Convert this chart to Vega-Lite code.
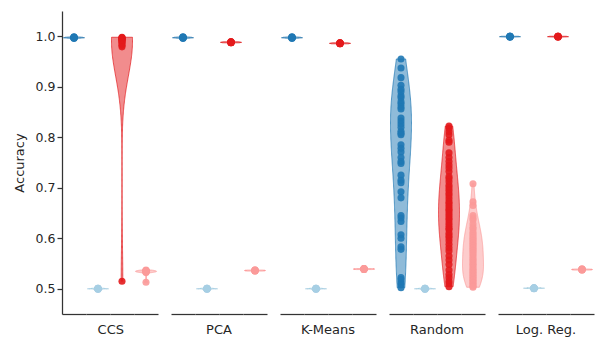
{
  "$schema": "https://vega.github.io/schema/vega-lite/v6.json",
  "padding": {"left": 13, "top": 11, "right": 5, "bottom": 5},
  "data": {"values": [
    {"m":"CCS","h":"A","v":0.998},{"m":"CCS","h":"A","v":0.997},{"m":"CCS","h":"A","v":0.996},{"m":"CCS","h":"A","v":0.998},{"m":"CCS","h":"A","v":0.997},{"m":"CCS","h":"A","v":0.996},{"m":"CCS","h":"A","v":0.999},{"m":"CCS","h":"A","v":0.997},{"m":"CCS","h":"A","v":0.998},{"m":"CCS","h":"A","v":0.997},
    {"m":"CCS","h":"B","v":0.500},{"m":"CCS","h":"B","v":0.501},{"m":"CCS","h":"B","v":0.499},{"m":"CCS","h":"B","v":0.500},{"m":"CCS","h":"B","v":0.501},{"m":"CCS","h":"B","v":0.500},{"m":"CCS","h":"B","v":0.499},{"m":"CCS","h":"B","v":0.500},{"m":"CCS","h":"B","v":0.501},{"m":"CCS","h":"B","v":0.500},
    {"m":"CCS","h":"C","v":0.998},{"m":"CCS","h":"C","v":0.997},{"m":"CCS","h":"C","v":0.996},{"m":"CCS","h":"C","v":0.996},{"m":"CCS","h":"C","v":0.995},{"m":"CCS","h":"C","v":0.994},{"m":"CCS","h":"C","v":0.993},{"m":"CCS","h":"C","v":0.992},{"m":"CCS","h":"C","v":0.990},{"m":"CCS","h":"C","v":0.988},{"m":"CCS","h":"C","v":0.985},{"m":"CCS","h":"C","v":0.982},{"m":"CCS","h":"C","v":0.979},{"m":"CCS","h":"C","v":0.515},
    {"m":"CCS","h":"D","v":0.537},{"m":"CCS","h":"D","v":0.536},{"m":"CCS","h":"D","v":0.535},{"m":"CCS","h":"D","v":0.535},{"m":"CCS","h":"D","v":0.534},{"m":"CCS","h":"D","v":0.534},{"m":"CCS","h":"D","v":0.533},{"m":"CCS","h":"D","v":0.533},{"m":"CCS","h":"D","v":0.532},{"m":"CCS","h":"D","v":0.536},{"m":"CCS","h":"D","v":0.513},
    {"m":"PCA","h":"A","v":0.998},{"m":"PCA","h":"A","v":0.997},{"m":"PCA","h":"A","v":0.996},{"m":"PCA","h":"A","v":0.998},{"m":"PCA","h":"A","v":0.997},{"m":"PCA","h":"A","v":0.996},{"m":"PCA","h":"A","v":0.999},{"m":"PCA","h":"A","v":0.997},{"m":"PCA","h":"A","v":0.998},{"m":"PCA","h":"A","v":0.997},
    {"m":"PCA","h":"B","v":0.500},{"m":"PCA","h":"B","v":0.501},{"m":"PCA","h":"B","v":0.499},{"m":"PCA","h":"B","v":0.500},{"m":"PCA","h":"B","v":0.501},{"m":"PCA","h":"B","v":0.500},{"m":"PCA","h":"B","v":0.499},{"m":"PCA","h":"B","v":0.500},{"m":"PCA","h":"B","v":0.501},{"m":"PCA","h":"B","v":0.500},
    {"m":"PCA","h":"C","v":0.989},{"m":"PCA","h":"C","v":0.988},{"m":"PCA","h":"C","v":0.987},{"m":"PCA","h":"C","v":0.988},{"m":"PCA","h":"C","v":0.989},{"m":"PCA","h":"C","v":0.987},{"m":"PCA","h":"C","v":0.988},{"m":"PCA","h":"C","v":0.988},{"m":"PCA","h":"C","v":0.989},{"m":"PCA","h":"C","v":0.987},
    {"m":"PCA","h":"D","v":0.537},{"m":"PCA","h":"D","v":0.536},{"m":"PCA","h":"D","v":0.535},{"m":"PCA","h":"D","v":0.536},{"m":"PCA","h":"D","v":0.537},{"m":"PCA","h":"D","v":0.535},{"m":"PCA","h":"D","v":0.536},{"m":"PCA","h":"D","v":0.536},{"m":"PCA","h":"D","v":0.537},{"m":"PCA","h":"D","v":0.535},
    {"m":"K-Means","h":"A","v":0.998},{"m":"K-Means","h":"A","v":0.997},{"m":"K-Means","h":"A","v":0.996},{"m":"K-Means","h":"A","v":0.998},{"m":"K-Means","h":"A","v":0.997},{"m":"K-Means","h":"A","v":0.996},{"m":"K-Means","h":"A","v":0.999},{"m":"K-Means","h":"A","v":0.997},{"m":"K-Means","h":"A","v":0.998},{"m":"K-Means","h":"A","v":0.997},
    {"m":"K-Means","h":"B","v":0.500},{"m":"K-Means","h":"B","v":0.501},{"m":"K-Means","h":"B","v":0.499},{"m":"K-Means","h":"B","v":0.500},{"m":"K-Means","h":"B","v":0.501},{"m":"K-Means","h":"B","v":0.500},{"m":"K-Means","h":"B","v":0.499},{"m":"K-Means","h":"B","v":0.500},{"m":"K-Means","h":"B","v":0.501},{"m":"K-Means","h":"B","v":0.500},
    {"m":"K-Means","h":"C","v":0.987},{"m":"K-Means","h":"C","v":0.986},{"m":"K-Means","h":"C","v":0.985},{"m":"K-Means","h":"C","v":0.986},{"m":"K-Means","h":"C","v":0.987},{"m":"K-Means","h":"C","v":0.985},{"m":"K-Means","h":"C","v":0.986},{"m":"K-Means","h":"C","v":0.986},{"m":"K-Means","h":"C","v":0.987},{"m":"K-Means","h":"C","v":0.985},
    {"m":"K-Means","h":"D","v":0.540},{"m":"K-Means","h":"D","v":0.539},{"m":"K-Means","h":"D","v":0.538},{"m":"K-Means","h":"D","v":0.539},{"m":"K-Means","h":"D","v":0.540},{"m":"K-Means","h":"D","v":0.538},{"m":"K-Means","h":"D","v":0.539},{"m":"K-Means","h":"D","v":0.539},{"m":"K-Means","h":"D","v":0.540},{"m":"K-Means","h":"D","v":0.538},
    {"m":"Random","h":"A","v":0.955},{"m":"Random","h":"A","v":0.937},{"m":"Random","h":"A","v":0.918},{"m":"Random","h":"A","v":0.903},{"m":"Random","h":"A","v":0.895},{"m":"Random","h":"A","v":0.890},{"m":"Random","h":"A","v":0.882},{"m":"Random","h":"A","v":0.878},{"m":"Random","h":"A","v":0.870},{"m":"Random","h":"A","v":0.866},{"m":"Random","h":"A","v":0.860},{"m":"Random","h":"A","v":0.856},{"m":"Random","h":"A","v":0.838},{"m":"Random","h":"A","v":0.832},{"m":"Random","h":"A","v":0.826},{"m":"Random","h":"A","v":0.820},{"m":"Random","h":"A","v":0.812},{"m":"Random","h":"A","v":0.808},{"m":"Random","h":"A","v":0.805},{"m":"Random","h":"A","v":0.785},{"m":"Random","h":"A","v":0.778},{"m":"Random","h":"A","v":0.771},{"m":"Random","h":"A","v":0.760},{"m":"Random","h":"A","v":0.752},{"m":"Random","h":"A","v":0.748},{"m":"Random","h":"A","v":0.725},{"m":"Random","h":"A","v":0.715},{"m":"Random","h":"A","v":0.710},{"m":"Random","h":"A","v":0.692},{"m":"Random","h":"A","v":0.680},{"m":"Random","h":"A","v":0.645},{"m":"Random","h":"A","v":0.640},{"m":"Random","h":"A","v":0.633},{"m":"Random","h":"A","v":0.607},{"m":"Random","h":"A","v":0.600},{"m":"Random","h":"A","v":0.583},{"m":"Random","h":"A","v":0.578},{"m":"Random","h":"A","v":0.522},{"m":"Random","h":"A","v":0.518},{"m":"Random","h":"A","v":0.512},{"m":"Random","h":"A","v":0.508},{"m":"Random","h":"A","v":0.502},
    {"m":"Random","h":"B","v":0.500},{"m":"Random","h":"B","v":0.501},{"m":"Random","h":"B","v":0.499},{"m":"Random","h":"B","v":0.500},{"m":"Random","h":"B","v":0.501},{"m":"Random","h":"B","v":0.500},{"m":"Random","h":"B","v":0.499},{"m":"Random","h":"B","v":0.500},{"m":"Random","h":"B","v":0.501},{"m":"Random","h":"B","v":0.500},
    {"m":"Random","h":"C","v":0.822},{"m":"Random","h":"C","v":0.818},{"m":"Random","h":"C","v":0.811},{"m":"Random","h":"C","v":0.805},{"m":"Random","h":"C","v":0.794},{"m":"Random","h":"C","v":0.790},{"m":"Random","h":"C","v":0.769},{"m":"Random","h":"C","v":0.760},{"m":"Random","h":"C","v":0.752},{"m":"Random","h":"C","v":0.745},{"m":"Random","h":"C","v":0.739},{"m":"Random","h":"C","v":0.732},{"m":"Random","h":"C","v":0.722},{"m":"Random","h":"C","v":0.718},{"m":"Random","h":"C","v":0.712},{"m":"Random","h":"C","v":0.705},{"m":"Random","h":"C","v":0.700},{"m":"Random","h":"C","v":0.695},{"m":"Random","h":"C","v":0.689},{"m":"Random","h":"C","v":0.684},{"m":"Random","h":"C","v":0.678},{"m":"Random","h":"C","v":0.672},{"m":"Random","h":"C","v":0.668},{"m":"Random","h":"C","v":0.663},{"m":"Random","h":"C","v":0.658},{"m":"Random","h":"C","v":0.655},{"m":"Random","h":"C","v":0.650},{"m":"Random","h":"C","v":0.645},{"m":"Random","h":"C","v":0.640},{"m":"Random","h":"C","v":0.636},{"m":"Random","h":"C","v":0.630},{"m":"Random","h":"C","v":0.625},{"m":"Random","h":"C","v":0.620},{"m":"Random","h":"C","v":0.617},{"m":"Random","h":"C","v":0.610},{"m":"Random","h":"C","v":0.605},{"m":"Random","h":"C","v":0.601},{"m":"Random","h":"C","v":0.595},{"m":"Random","h":"C","v":0.588},{"m":"Random","h":"C","v":0.581},{"m":"Random","h":"C","v":0.575},{"m":"Random","h":"C","v":0.565},{"m":"Random","h":"C","v":0.557},{"m":"Random","h":"C","v":0.548},{"m":"Random","h":"C","v":0.537},{"m":"Random","h":"C","v":0.528},{"m":"Random","h":"C","v":0.522},{"m":"Random","h":"C","v":0.515},{"m":"Random","h":"C","v":0.510},{"m":"Random","h":"C","v":0.504},
    {"m":"Random","h":"D","v":0.708},{"m":"Random","h":"D","v":0.672},{"m":"Random","h":"D","v":0.665},{"m":"Random","h":"D","v":0.645},{"m":"Random","h":"D","v":0.640},{"m":"Random","h":"D","v":0.636},{"m":"Random","h":"D","v":0.628},{"m":"Random","h":"D","v":0.622},{"m":"Random","h":"D","v":0.618},{"m":"Random","h":"D","v":0.612},{"m":"Random","h":"D","v":0.608},{"m":"Random","h":"D","v":0.604},{"m":"Random","h":"D","v":0.600},{"m":"Random","h":"D","v":0.597},{"m":"Random","h":"D","v":0.594},{"m":"Random","h":"D","v":0.590},{"m":"Random","h":"D","v":0.587},{"m":"Random","h":"D","v":0.584},{"m":"Random","h":"D","v":0.580},{"m":"Random","h":"D","v":0.577},{"m":"Random","h":"D","v":0.574},{"m":"Random","h":"D","v":0.570},{"m":"Random","h":"D","v":0.566},{"m":"Random","h":"D","v":0.562},{"m":"Random","h":"D","v":0.558},{"m":"Random","h":"D","v":0.555},{"m":"Random","h":"D","v":0.551},{"m":"Random","h":"D","v":0.548},{"m":"Random","h":"D","v":0.545},{"m":"Random","h":"D","v":0.541},{"m":"Random","h":"D","v":0.538},{"m":"Random","h":"D","v":0.535},{"m":"Random","h":"D","v":0.532},{"m":"Random","h":"D","v":0.529},{"m":"Random","h":"D","v":0.526},{"m":"Random","h":"D","v":0.523},{"m":"Random","h":"D","v":0.520},{"m":"Random","h":"D","v":0.517},{"m":"Random","h":"D","v":0.514},{"m":"Random","h":"D","v":0.511},{"m":"Random","h":"D","v":0.508},{"m":"Random","h":"D","v":0.505},{"m":"Random","h":"D","v":0.503},
    {"m":"Log. Reg.","h":"A","v":1.000},{"m":"Log. Reg.","h":"A","v":0.999},{"m":"Log. Reg.","h":"A","v":0.999},{"m":"Log. Reg.","h":"A","v":1.000},{"m":"Log. Reg.","h":"A","v":0.998},{"m":"Log. Reg.","h":"A","v":0.999},{"m":"Log. Reg.","h":"A","v":1.000},{"m":"Log. Reg.","h":"A","v":0.999},{"m":"Log. Reg.","h":"A","v":1.000},{"m":"Log. Reg.","h":"A","v":0.999},
    {"m":"Log. Reg.","h":"B","v":0.501},{"m":"Log. Reg.","h":"B","v":0.502},{"m":"Log. Reg.","h":"B","v":0.500},{"m":"Log. Reg.","h":"B","v":0.501},{"m":"Log. Reg.","h":"B","v":0.502},{"m":"Log. Reg.","h":"B","v":0.501},{"m":"Log. Reg.","h":"B","v":0.500},{"m":"Log. Reg.","h":"B","v":0.501},{"m":"Log. Reg.","h":"B","v":0.502},{"m":"Log. Reg.","h":"B","v":0.501},
    {"m":"Log. Reg.","h":"C","v":1.000},{"m":"Log. Reg.","h":"C","v":0.999},{"m":"Log. Reg.","h":"C","v":0.999},{"m":"Log. Reg.","h":"C","v":1.000},{"m":"Log. Reg.","h":"C","v":0.998},{"m":"Log. Reg.","h":"C","v":0.999},{"m":"Log. Reg.","h":"C","v":1.000},{"m":"Log. Reg.","h":"C","v":0.999},{"m":"Log. Reg.","h":"C","v":1.000},{"m":"Log. Reg.","h":"C","v":0.999},
    {"m":"Log. Reg.","h":"D","v":0.539},{"m":"Log. Reg.","h":"D","v":0.538},{"m":"Log. Reg.","h":"D","v":0.537},{"m":"Log. Reg.","h":"D","v":0.538},{"m":"Log. Reg.","h":"D","v":0.539},{"m":"Log. Reg.","h":"D","v":0.537},{"m":"Log. Reg.","h":"D","v":0.538},{"m":"Log. Reg.","h":"D","v":0.538},{"m":"Log. Reg.","h":"D","v":0.539},{"m":"Log. Reg.","h":"D","v":0.537}
  ]},
  "spacing": 11,
  "hconcat": [
    {
      "transform": [{"filter": "datum.m === 'CCS'"}],
      "title": {"text": "CCS", "orient": "bottom", "anchor": "middle", "frame": "bounds", "offset": 10, "dx": 25},
      "facet": {"column": {"field": "h", "type": "nominal", "sort": ["A","B","C","D"], "header": {"title": null, "labels": false}}},
      "spacing": 0,
      "bounds": "flush",
      "resolve": {"scale": {"x": "independent"}},
      "spec": {
        "width": 24, "height": 303,
        "layer": [
          {
            "transform": [{"filter": "datum.h !== 'C'"}, {"density": "v", "groupby": ["m","h"], "as": ["v","density"]}],
            "mark": {"type": "area", "orient": "horizontal", "fillOpacity": 0.5, "strokeWidth": 1, "strokeOpacity": 0.7},
            "encoding": {
              "y": {"field": "v", "type": "quantitative", "scale": {"domain": [0.45, 1.05], "nice": false, "zero": false}, "axis": {"title": "Accuracy", "values": [0.5,0.6,0.7,0.8,0.9,1.0], "format": ".1f", "grid": false, "tickSize": 5, "labelPadding": 2, "titlePadding": 9}},
              "x": {"field": "density", "type": "quantitative", "stack": "center", "impute": null, "scale": {"nice": false, "padding": 1.5}, "axis": {"title": null, "labels": false, "ticks": false, "grid": false}},
              "color": {"field": "h", "type": "nominal", "scale": {"domain": ["A","B","C","D"], "range": ["#1f78b4","#a6cee3","#e31a1c","#fb9a99"]}, "legend": null},
              "stroke": {"field": "h", "type": "nominal", "scale": {"domain": ["A","B","C","D"], "range": ["#1f78b4","#a6cee3","#e31a1c","#fb9a99"]}, "legend": null}
            }
          },
          {
            "transform": [{"filter": "datum.h === 'C'"}, {"density": "v", "groupby": ["m","h"], "bandwidth": 0.07, "as": ["v","density"]}],
            "mark": {"type": "area", "orient": "horizontal", "fillOpacity": 0.5, "strokeWidth": 1, "strokeOpacity": 0.7},
            "encoding": {
              "y": {"field": "v", "type": "quantitative", "axis": {"title": "Accuracy", "values": [0.5,0.6,0.7,0.8,0.9,1.0], "format": ".1f", "grid": false, "tickSize": 5, "labelPadding": 2, "titlePadding": 9}},
              "x": {"field": "density", "type": "quantitative", "stack": "center", "impute": null, "axis": {"title": null, "labels": false, "ticks": false, "grid": false}},
              "color": {"field": "h", "type": "nominal", "legend": null},
              "stroke": {"field": "h", "type": "nominal", "legend": null}
            }
          },
          {
            "mark": {"type": "circle", "size": 50, "opacity": 0.9},
            "encoding": {
              "y": {"field": "v", "type": "quantitative", "axis": {"title": "Accuracy", "values": [0.5,0.6,0.7,0.8,0.9,1.0], "format": ".1f", "grid": false, "tickSize": 5, "labelPadding": 2, "titlePadding": 9}},
              "color": {"field": "h", "type": "nominal", "legend": null}
            }
          }
        ]
      }
    },
    {
      "transform": [{"filter": "datum.m === 'PCA'"}],
      "title": {"text": "PCA", "orient": "bottom", "anchor": "middle", "frame": "bounds", "offset": 10},
      "facet": {"column": {"field": "h", "type": "nominal", "sort": ["A","B","C","D"], "header": {"title": null, "labels": false}}},
      "spacing": 0,
      "bounds": "flush",
      "resolve": {"scale": {"x": "independent"}},
      "spec": {
        "width": 24, "height": 303,
        "layer": [
          {
            "transform": [{"density": "v", "groupby": ["m","h"], "as": ["v","density"]}],
            "mark": {"type": "area", "orient": "horizontal", "fillOpacity": 0.5, "strokeWidth": 1, "strokeOpacity": 0.7},
            "encoding": {
              "y": {"field": "v", "type": "quantitative", "scale": {"domain": [0.45, 1.05], "nice": false, "zero": false}, "axis": null},
              "x": {"field": "density", "type": "quantitative", "stack": "center", "impute": null, "scale": {"nice": false, "padding": 1.5}, "axis": {"title": null, "labels": false, "ticks": false, "grid": false}},
              "color": {"field": "h", "type": "nominal", "scale": {"domain": ["A","B","C","D"], "range": ["#1f78b4","#a6cee3","#e31a1c","#fb9a99"]}, "legend": null},
              "stroke": {"field": "h", "type": "nominal", "scale": {"domain": ["A","B","C","D"], "range": ["#1f78b4","#a6cee3","#e31a1c","#fb9a99"]}, "legend": null}
            }
          },
          {
            "mark": {"type": "circle", "size": 50, "opacity": 0.9},
            "encoding": {
              "y": {"field": "v", "type": "quantitative", "axis": null},
              "color": {"field": "h", "type": "nominal", "legend": null}
            }
          }
        ]
      }
    },
    {
      "transform": [{"filter": "datum.m === 'K-Means'"}],
      "title": {"text": "K-Means", "orient": "bottom", "anchor": "middle", "frame": "bounds", "offset": 10},
      "facet": {"column": {"field": "h", "type": "nominal", "sort": ["A","B","C","D"], "header": {"title": null, "labels": false}}},
      "spacing": 0,
      "bounds": "flush",
      "resolve": {"scale": {"x": "independent"}},
      "spec": {
        "width": 24, "height": 303,
        "layer": [
          {
            "transform": [{"density": "v", "groupby": ["m","h"], "as": ["v","density"]}],
            "mark": {"type": "area", "orient": "horizontal", "fillOpacity": 0.5, "strokeWidth": 1, "strokeOpacity": 0.7},
            "encoding": {
              "y": {"field": "v", "type": "quantitative", "scale": {"domain": [0.45, 1.05], "nice": false, "zero": false}, "axis": null},
              "x": {"field": "density", "type": "quantitative", "stack": "center", "impute": null, "scale": {"nice": false, "padding": 1.5}, "axis": {"title": null, "labels": false, "ticks": false, "grid": false}},
              "color": {"field": "h", "type": "nominal", "scale": {"domain": ["A","B","C","D"], "range": ["#1f78b4","#a6cee3","#e31a1c","#fb9a99"]}, "legend": null},
              "stroke": {"field": "h", "type": "nominal", "scale": {"domain": ["A","B","C","D"], "range": ["#1f78b4","#a6cee3","#e31a1c","#fb9a99"]}, "legend": null}
            }
          },
          {
            "mark": {"type": "circle", "size": 50, "opacity": 0.9},
            "encoding": {
              "y": {"field": "v", "type": "quantitative", "axis": null},
              "color": {"field": "h", "type": "nominal", "legend": null}
            }
          }
        ]
      }
    },
    {
      "transform": [{"filter": "datum.m === 'Random'"}],
      "title": {"text": "Random", "orient": "bottom", "anchor": "middle", "frame": "bounds", "offset": 10},
      "facet": {"column": {"field": "h", "type": "nominal", "sort": ["A","B","C","D"], "header": {"title": null, "labels": false}}},
      "spacing": 0,
      "bounds": "flush",
      "resolve": {"scale": {"x": "independent"}},
      "spec": {
        "width": 24, "height": 303,
        "layer": [
          {
            "transform": [{"density": "v", "groupby": ["m","h"], "as": ["v","density"]}],
            "mark": {"type": "area", "orient": "horizontal", "fillOpacity": 0.5, "strokeWidth": 1, "strokeOpacity": 0.7},
            "encoding": {
              "y": {"field": "v", "type": "quantitative", "scale": {"domain": [0.45, 1.05], "nice": false, "zero": false}, "axis": null},
              "x": {"field": "density", "type": "quantitative", "stack": "center", "impute": null, "scale": {"nice": false, "padding": 1.5}, "axis": {"title": null, "labels": false, "ticks": false, "grid": false}},
              "color": {"field": "h", "type": "nominal", "scale": {"domain": ["A","B","C","D"], "range": ["#1f78b4","#a6cee3","#e31a1c","#fb9a99"]}, "legend": null},
              "stroke": {"field": "h", "type": "nominal", "scale": {"domain": ["A","B","C","D"], "range": ["#1f78b4","#a6cee3","#e31a1c","#fb9a99"]}, "legend": null}
            }
          },
          {
            "mark": {"type": "circle", "size": 50, "opacity": 0.9},
            "encoding": {
              "y": {"field": "v", "type": "quantitative", "axis": null},
              "color": {"field": "h", "type": "nominal", "legend": null}
            }
          }
        ]
      }
    },
    {
      "transform": [{"filter": "datum.m === 'Log. Reg.'"}],
      "title": {"text": "Log. Reg.", "orient": "bottom", "anchor": "middle", "frame": "bounds", "offset": 10},
      "facet": {"column": {"field": "h", "type": "nominal", "sort": ["A","B","C","D"], "header": {"title": null, "labels": false}}},
      "spacing": 0,
      "bounds": "flush",
      "resolve": {"scale": {"x": "independent"}},
      "spec": {
        "width": 24, "height": 303,
        "layer": [
          {
            "transform": [{"density": "v", "groupby": ["m","h"], "as": ["v","density"]}],
            "mark": {"type": "area", "orient": "horizontal", "fillOpacity": 0.5, "strokeWidth": 1, "strokeOpacity": 0.7},
            "encoding": {
              "y": {"field": "v", "type": "quantitative", "scale": {"domain": [0.45, 1.05], "nice": false, "zero": false}, "axis": null},
              "x": {"field": "density", "type": "quantitative", "stack": "center", "impute": null, "scale": {"nice": false, "padding": 1.5}, "axis": {"title": null, "labels": false, "ticks": false, "grid": false}},
              "color": {"field": "h", "type": "nominal", "scale": {"domain": ["A","B","C","D"], "range": ["#1f78b4","#a6cee3","#e31a1c","#fb9a99"]}, "legend": null},
              "stroke": {"field": "h", "type": "nominal", "scale": {"domain": ["A","B","C","D"], "range": ["#1f78b4","#a6cee3","#e31a1c","#fb9a99"]}, "legend": null}
            }
          },
          {
            "mark": {"type": "circle", "size": 50, "opacity": 0.9},
            "encoding": {
              "y": {"field": "v", "type": "quantitative", "axis": null},
              "color": {"field": "h", "type": "nominal", "legend": null}
            }
          }
        ]
      }
    }
  ],
  "config": {
    "view": {"stroke": null},
    "font": "DejaVu Sans",
    "title": {"fontSize": 13, "fontWeight": "normal", "font": "DejaVu Sans", "color": "#262626"},
    "axis": {"labelFont": "DejaVu Sans", "labelFontSize": 12.5, "labelColor": "#262626", "titleFont": "DejaVu Sans", "titleFontSize": 13, "titleFontWeight": "normal", "titleColor": "#262626", "domainColor": "#333333", "tickColor": "#333333", "domainWidth": 1.25, "tickWidth": 1.25}
  }
}
